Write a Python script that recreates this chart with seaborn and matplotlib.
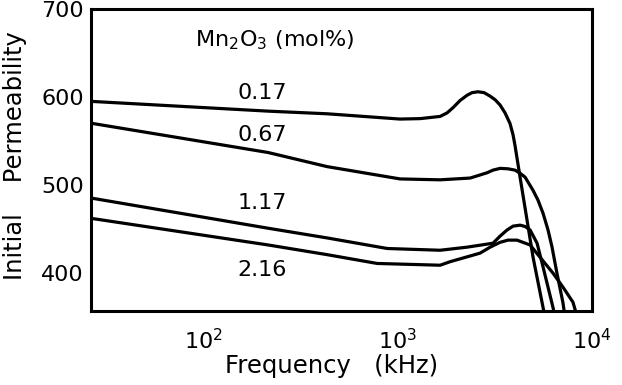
import matplotlib
matplotlib.use("Agg")
import matplotlib.pyplot as plt
import matplotlib.ticker as mticker
import pandas as pd
import seaborn as sns

# Initial permeability vs. frequency for several Mn2O3 additions
conc_labels = ["0.17", "0.67", "1.17", "2.16"]

freq_017 = [27, 216, 434, 1030, 1306, 1655, 1797, 1929, 2094, 2276, 2415, 2592, 2786,
            2992, 3172, 3365, 3571, 3786, 3926, 4017, 4265, 4634, 4975, 5730]
perm_017 = [595, 584, 581, 575, 575.5, 578, 582, 588, 596, 602, 605, 606, 605,
            601, 597, 591, 582, 570, 557, 545, 509, 460, 418, 350]

freq_067 = [27, 84, 216, 434, 1030, 1655, 2362, 2884, 3096, 3365, 3698, 4017, 4265,
            4527, 4975, 5272, 5600, 5940, 6223, 6600, 7094, 7261]
perm_067 = [570, 552, 537, 521, 507, 506, 508, 514, 517, 519, 518.5, 517, 513.5,
            509, 494, 483, 468, 449, 430, 400, 366, 350]

freq_117 = [27, 216, 434, 884, 1655, 2276, 3096, 3365, 3656, 3926, 4265, 4527, 4803,
            5217, 5600, 5940, 6300, 6450]
perm_117 = [485, 451, 440, 428, 426, 429.5, 434, 442, 449, 453.4, 454.5, 453, 449,
            434, 407, 384, 361, 350]

freq_216 = [27, 216, 434, 785, 1655, 1862, 2654, 2992, 3365, 3698, 4113, 4803, 5407,
            6300, 7094, 7980, 8200]
perm_216 = [462, 432, 421, 411, 409, 413, 422.7, 429.5, 435, 437.5, 437.5, 432, 418,
            400, 384, 367, 358]

frames = []
for lab, f, p in zip(conc_labels,
                     [freq_017, freq_067, freq_117, freq_216],
                     [perm_017, perm_067, perm_117, perm_216]):
    frames.append(pd.DataFrame({"freq": f, "perm": p, "conc": lab}))
df = pd.concat(frames, ignore_index=True)

sns.set_style("white")
plt.rcParams["font.family"] = ["DejaVu Sans"]
plt.rcParams["text.color"] = "black"

fig = plt.figure(figsize=(6.22, 3.85), dpi=100)
ax = fig.add_axes([0.1463, 0.1922, 0.8055, 0.7844])

sns.lineplot(data=df, x="freq", y="perm", hue="conc", estimator=None,
             palette=["black"] * 4, linewidth=2.3, legend=False, ax=ax,
             sort=False)

ax.set_xscale("log")
ax.set_xlim(26.5, 10000)
ax.set_ylim(357, 700)
ax.set_xticks([100, 1000, 10000])
ax.xaxis.set_major_formatter(mticker.LogFormatterMathtext())
ax.xaxis.set_minor_locator(mticker.NullLocator())
ax.set_yticks([400, 500, 600, 700])

for s in ax.spines.values():
    s.set_linewidth(2.2)
    s.set_color("black")
ax.tick_params(axis="both", which="major", direction="in", length=6,
               width=2, labelsize=16, colors="black")
ax.tick_params(axis="x", pad=12)
ax.tick_params(axis="y", pad=5)

ax.set_xlabel("")
ax.set_ylabel("")
fig.text(332 / 622, 1 - 366 / 385, "Frequency   (kHz)", ha="center", va="center",
         fontsize=17.5)
fig.text(15 / 622, 1 - 156 / 385, "Initial    Permeability", rotation=90,
         ha="center", va="center", fontsize=17.5)

# Curve labels
ax.text(232, 665, r"Mn$_2$O$_3$ (mol%)", ha="center", va="center", fontsize=16)
label_pos = {"0.17": (201, 604.5), "0.67": (201, 557), "1.17": (201, 479.5),
             "2.16": (201, 403.4)}
for lab in conc_labels:
    x, y = label_pos[lab]
    ax.text(x, y, lab, ha="center", va="center", fontsize=16)

fig.savefig("out.png", dpi=100)
